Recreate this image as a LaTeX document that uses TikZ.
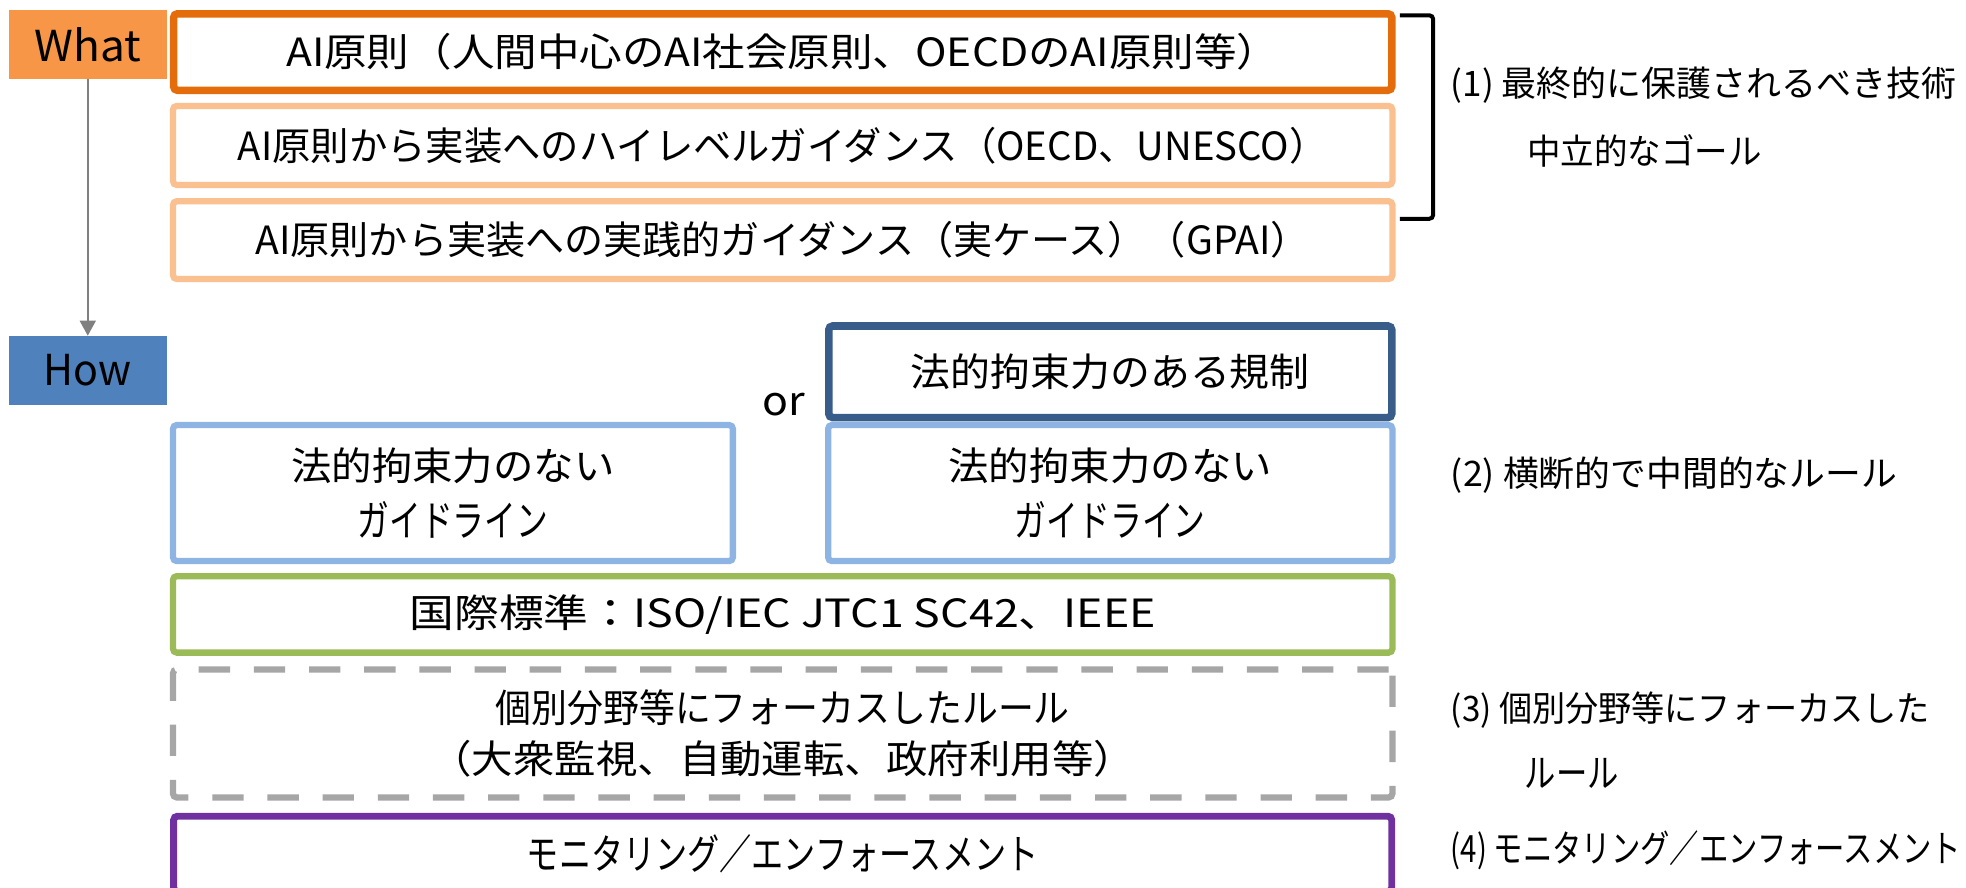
\documentclass[tikz,border=0pt]{standalone}
\usepackage{fontspec}
\usepackage{graphicx}
\setmainfont{Noto Sans CJK JP}
\usetikzlibrary{arrows.meta}
\definecolor{whatc}{HTML}{F79646}
\definecolor{howc}{HTML}{4F81BD}
\definecolor{ca}{HTML}{E46C0A}
\definecolor{cb}{HTML}{FAC090}
\definecolor{cd}{HTML}{385D8A}
\definecolor{ce}{HTML}{8EB4E3}
\definecolor{cg}{HTML}{9BBB59}
\definecolor{ch}{HTML}{A6A6A6}
\definecolor{ci}{HTML}{7030A0}
\definecolor{arrc}{HTML}{808080}
\newcommand{\fitw}[2]{\resizebox{#1}{\height}{#2}}
\newcommand{\bfs}{\fontsize{31}{37}\selectfont}
\newcommand{\rfs}{\fontsize{28}{34}\selectfont}
\newcommand{\kfs}{\fontsize{34}{45}\selectfont}
\begin{document}
\begin{tikzpicture}[x=1pt,y=-1pt,
  frame/.style={draw, rounded corners=3pt, inner sep=0pt, align=center, font=\bfs},
  tag/.style={inner sep=0pt, minimum width=126pt, minimum height=55pt, font=\fontsize{34}{40}\selectfont},
  note/.style={anchor=west, inner sep=0pt, font=\rfs},
  link/.style={draw=arrc, line width=2pt, -{Triangle[width=12.5pt,length=12pt,fill=arrc]}},
  brace/.style={draw=black, line width=3.2pt, rounded corners=3pt}
]
\useasboundingbox (0,0) rectangle (1568,708);

% What / How
\node[tag, fill=whatc] (what) at (70,35.5) {\fitw{85pt}{What}};
\node[tag, fill=howc] (how) at (70,295.5) {\fitw{70pt}{How}};
\draw[link] (what) -- (how);

% (1) principles
\node[frame, draw=ca, line width=6pt, minimum width=971.5pt, minimum height=61pt] (pa) at (624.25,41.5)
  {\fitw{792pt}{AI原則（人間中心のAI社会原則、OECDのAI原則等）}};
\node[frame, draw=cb, line width=5pt, minimum width=972.5pt, minimum height=63pt] (pb) at (624.25,116)
  {\fitw{869pt}{AI原則から実装へのハイレベルガイダンス（OECD、UNESCO）}};
\node[frame, draw=cb, line width=5pt, minimum width=972.5pt, minimum height=62pt] (pc) at (624.25,191.5)
  {\fitw{841pt}{AI原則から実装への実践的ガイダンス（実ケース）（GPAI）}};
\draw[brace] (1116.5,12.2) -- (1143,12.2) -- (1143,174.5) -- (1116.5,174.5);
\node[note] (n1a) at (1157,68) {\fitw{403pt}{(1) 最終的に保護されるべき技術}};
\node[note] (n1b) at (1218,120) {\fitw{187pt}{中立的なゴール}};

% (2)
\node[inner sep=0pt, font=\fontsize{32}{38}\selectfont] (or) at (625,323) {\fitw{34pt}{or}};
\node[frame, draw=cd, line width=6pt, minimum width=449pt, minimum height=73pt] (pd) at (885.5,296.5)
  {\fitw{318pt}{法的拘束力のある規制}};
\node[frame, draw=ce, line width=5pt, minimum width=450pt, minimum height=108.5pt, font=\fontsize{31}{45}\selectfont] (pe) at (885.5,393.25)
  {\fitw{258pt}{法的拘束力のない}\\{\kfs\fitw{152pt}{ガイドライン}}};
\node[frame, draw=ce, line width=5pt, minimum width=446.5pt, minimum height=108.5pt, font=\fontsize{31}{45}\selectfont] (pf) at (361.25,393.25)
  {\fitw{258pt}{法的拘束力のない}\\{\kfs\fitw{152pt}{ガイドライン}}};
\node[note] (n2) at (1157,379) {\fitw{356pt}{(2) 横断的で中間的なルール}};
\node[frame, draw=cg, line width=5pt, minimum width=972.5pt, minimum height=61pt] (pg) at (624.25,490)
  {\fitw{595pt}{国際標準：ISO/IEC JTC1 SC42、IEEE}};

% (3)
\node[frame, draw=ch, line width=5pt, dash pattern=on 25pt off 19pt, minimum width=972.5pt, minimum height=102pt, font=\fontsize{31}{40}\selectfont] (ph) at (624.25,585)
  {\fitw{458pt}{個別分野等にフォーカスしたルール}\\\fitw{562pt}{（大衆監視、自動運転、政府利用等）}};
\node[note] (n3a) at (1157,566) {\fitw{382pt}{(3) 個別分野等にフォーカスした}};
\node[note, font=\fontsize{31}{36}\selectfont] (n3b) at (1216,617) {\fitw{75pt}{ルール}};

% (4)
\node[frame, draw=ci, line width=5.5pt, minimum width=971.5pt, minimum height=60pt, font=\fontsize{33}{40}\selectfont] (pi) at (624.25,681)
  {\fitw{408pt}{モニタリング／エンフォースメント}};
\node[note, font=\fontsize{30}{36}\selectfont] (n4) at (1157,678) {\fitw{407pt}{(4) モニタリング／エンフォースメント}};
\end{tikzpicture}
\end{document}
